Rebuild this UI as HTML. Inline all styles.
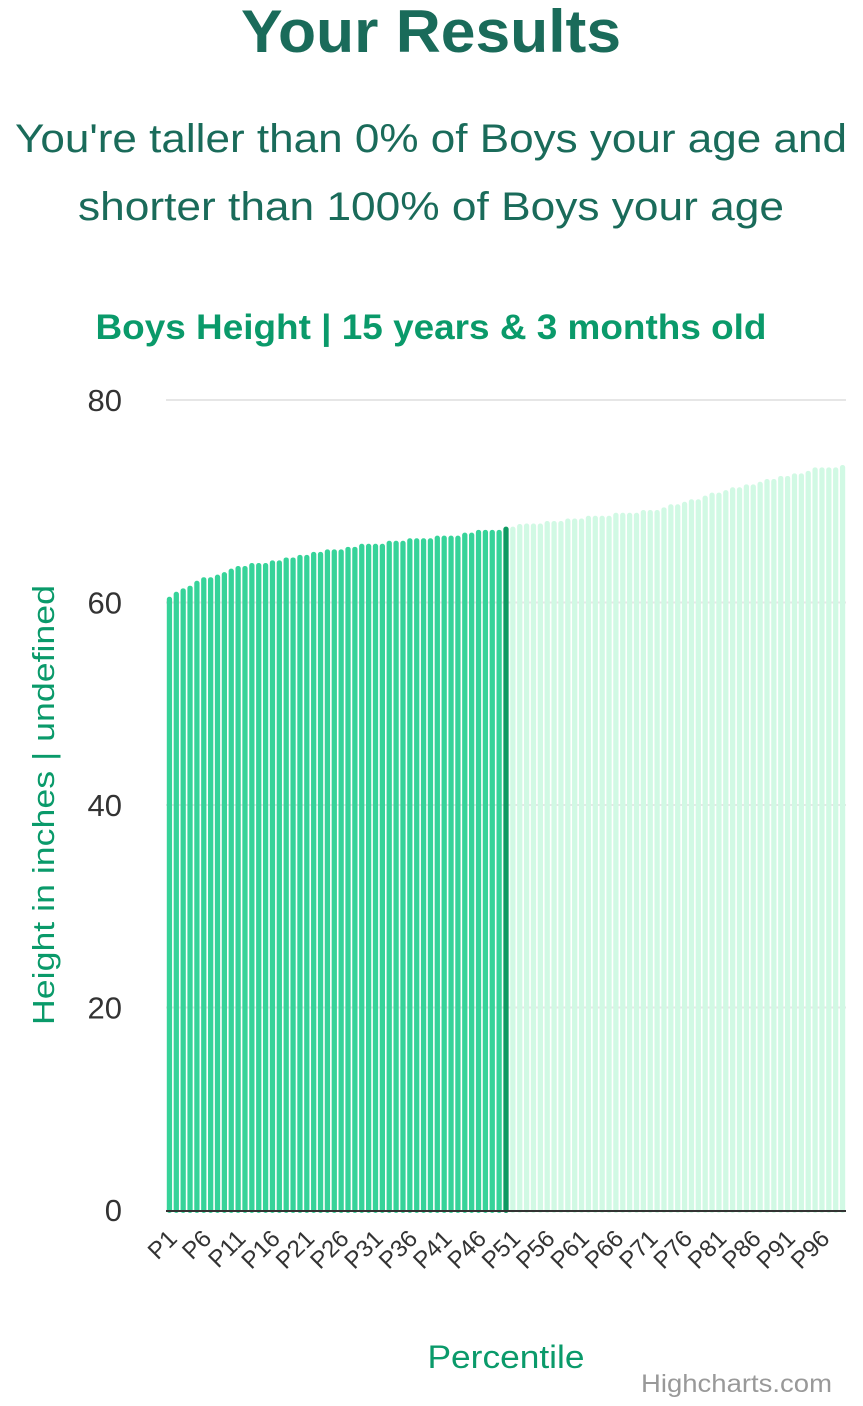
<!DOCTYPE html>
<html><head><meta charset="utf-8"><style>
html,body{margin:0;padding:0;background:#fff;}
svg{display:block;font-family:"Liberation Sans",sans-serif;}
</style></head><body>
<svg id="c" width="863" height="1406" viewBox="0 0 863 1406">
<text x="431" y="52" text-anchor="middle" font-size="60" font-weight="bold" fill="#1a6b5a" textLength="380" lengthAdjust="spacingAndGlyphs">Your Results</text>
<text x="431" y="152" text-anchor="middle" font-size="40" fill="#1a6b5a" textLength="832" lengthAdjust="spacingAndGlyphs">You're taller than 0% of Boys your age and</text>
<text x="431" y="220" text-anchor="middle" font-size="40" fill="#1a6b5a" textLength="706" lengthAdjust="spacingAndGlyphs">shorter than 100% of Boys your age</text>
<text x="431" y="339" text-anchor="middle" font-size="35" font-weight="bold" fill="#0a9a6a" textLength="671" lengthAdjust="spacingAndGlyphs">Boys Height | 15 years &amp; 3 months old</text>
<g id="grid"></g><g id="bars"></g><g id="xl"></g>
<text transform="translate(54,805) rotate(-90)" text-anchor="middle" font-size="31" fill="#0a9a6a" textLength="440" lengthAdjust="spacingAndGlyphs">Height in inches | undefined</text>
<text x="506" y="1368" text-anchor="middle" font-size="32" fill="#0a9a6a" textLength="157" lengthAdjust="spacingAndGlyphs">Percentile</text>
<text x="832" y="1392" text-anchor="end" font-size="25" fill="#999" textLength="191" lengthAdjust="spacingAndGlyphs">Highcharts.com</text>
</svg>
<script>
const categories=[];for(let i=1;i<=99;i++)categories.push('P'+i);
const heights=[60.57,61.06,61.4,61.66,62.15,62.5,62.5,62.75,63.0,63.35,63.6,63.6,63.9,63.9,63.9,64.16,64.16,64.45,64.45,64.7,64.7,65.0,65.0,65.25,65.25,65.25,65.5,65.5,65.8,65.8,65.8,65.8,66.1,66.1,66.1,66.35,66.35,66.35,66.35,66.6,66.6,66.6,66.6,66.9,66.9,67.17,67.17,67.17,67.17,67.49,
67.49,67.75,67.8,67.8,67.8,68.05,68.05,68.05,68.3,68.3,68.3,68.57,68.57,68.57,68.57,68.86,68.86,68.86,68.86,69.14,69.14,69.14,69.4,69.7,69.7,69.95,70.2,70.2,70.55,70.85,70.85,71.1,71.38,71.38,71.67,71.67,71.93,72.2,72.2,72.5,72.5,72.75,72.75,73.0,73.35,73.35,73.35,73.35,73.58];
const userIndex=49;
const yTicks=[0,20,40,60,80];
const NS='http://www.w3.org/2000/svg';
const x0=166,x1=846,yb=1210,yt=400,ymax=80;
const y=v=>yb-(v/ymax)*(yb-yt);
const pitch=(x1-x0)/categories.length;
const xc=i=>x0+pitch*(i+0.5);
function mk(t,a,p){const e=document.createElementNS(NS,t);for(const k in a)e.setAttribute(k,a[k]);p.appendChild(e);return e;}
const grid=document.getElementById('grid');
yTicks.forEach(v=>{
 if(v>0){const l=mk('line',{x1:x0,x2:x1,y1:y(v),y2:y(v),stroke:'#e6e6e6','stroke-width':2},grid);
 
 }
 const t=mk('text',{x:122,y:y(v)+11,'text-anchor':'end','font-size':31,fill:'#333'},grid);t.textContent=v;
 
 
});
const bars=document.getElementById('bars');
heights.forEach((h,i)=>{
 const w=pitch-1.6,top=y(h);
 const col=i<userIndex?'#36d399':(i===userIndex?'#0e9a62':'#d1f9e4');
 const r=mk('rect',{x:xc(i)-w/2,y:top,width:w,height:yb-top+3,rx:2.5,fill:col},bars);
 
 
});
const ax=mk('line',{x1:x0,x2:x1,y1:yb+1,y2:yb+1,stroke:'#333','stroke-width':2},bars);


const xl=document.getElementById('xl');
categories.forEach((c,i)=>{
 if(i%5!==0)return;
 const cx=xc(i)+9,cy=1240;
 const t=mk('text',{x:cx,y:cy,'text-anchor':'end','font-size':24,fill:'#333',transform:`rotate(-45 ${cx} ${cy})`},xl);
 t.textContent=c;
 
 
});
</script>
</body></html>
